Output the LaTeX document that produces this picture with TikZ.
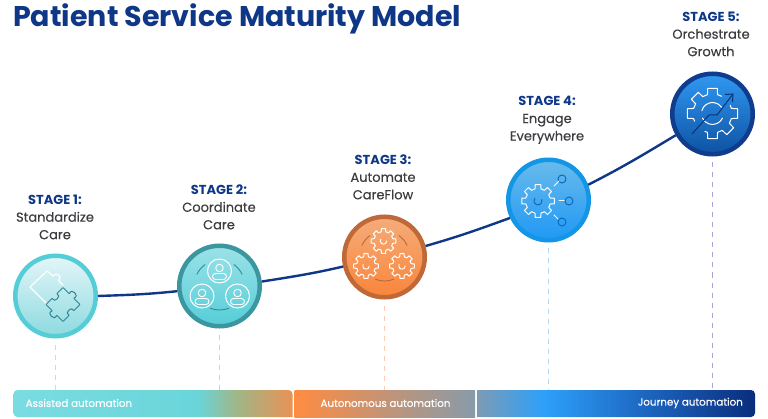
\documentclass[tikz,border=0pt]{standalone}
\usepackage{fontspec}
\setmainfont{Poppins}
\newfontfamily\medfont[FakeBold=0.3]{Poppins}
\usetikzlibrary{arrows.meta}
\definecolor{navy}{RGB}{15,55,135}
\definecolor{txt}{RGB}{60,60,65}
\definecolor{aA}{RGB}{122,220,226}\definecolor{aB}{RGB}{105,213,218}\definecolor{aC}{RGB}{160,182,135}\definecolor{aD}{RGB}{232,146,85}
\definecolor{bA}{RGB}{255,140,65}\definecolor{bB}{RGB}{135,155,170}
\definecolor{cA}{RGB}{125,155,180}\definecolor{cB}{RGB}{45,160,250}\definecolor{cC}{RGB}{28,100,190}\definecolor{cD}{RGB}{10,45,125}
\definecolor{bdA}{RGB}{85,205,215}\definecolor{hiA}{RGB}{228,246,248}\definecolor{loA}{RGB}{140,218,224}
\definecolor{bdB}{RGB}{60,150,160}\definecolor{hiB}{RGB}{155,226,232}\definecolor{loB}{RGB}{85,205,215}
\definecolor{bdC}{RGB}{190,105,55}\definecolor{hiC}{RGB}{245,172,122}\definecolor{loC}{RGB}{250,133,58}
\definecolor{bdD}{RGB}{20,150,230}\definecolor{hiD}{RGB}{105,187,235}\definecolor{loD}{RGB}{32,152,245}
\definecolor{bdE}{RGB}{15,60,140}\definecolor{hiE}{RGB}{48,152,242}\definecolor{loE}{RGB}{14,82,162}
\definecolor{daA}{RGB}{180,228,238}\definecolor{daB}{RGB}{180,216,240}\definecolor{daC}{RGB}{250,205,180}\definecolor{daE}{RGB}{165,165,215}
\definecolor{icA}{RGB}{45,135,150}\definecolor{icB}{RGB}{50,140,150}\definecolor{icC}{RGB}{185,105,60}\definecolor{icD}{RGB}{15,105,190}\definecolor{icE}{RGB}{10,50,120}
\pgfdeclarehorizontalshading{segone}{100bp}{color(0bp)=(aA);color(25bp)=(aA);color(58bp)=(aB);color(65bp)=(aC);color(75bp)=(aD);color(100bp)=(aD)}
\pgfdeclarehorizontalshading{segtwo}{100bp}{color(0bp)=(bA);color(25bp)=(bA);color(75bp)=(bB);color(100bp)=(bB)}
\pgfdeclarehorizontalshading{segthree}{100bp}{color(0bp)=(cA);color(25bp)=(cA);color(37bp)=(cB);color(56bp)=(cC);color(75bp)=(cD);color(100bp)=(cD)}
\tikzset{
 stagecirc/.style={circle,minimum size=80.5pt,inner sep=0pt,line width=4.5pt,shading angle=-45},
 link/.style={navy,line width=2.4pt},
 dashline/.style={line width=.9pt,dash pattern=on 5pt off 5pt},
 stagelabel/.style={align=center,inner sep=0pt,font=\medfont\fontsize{13}{17.5}\selectfont,text=txt},
 barlabel/.style={inner sep=0pt,text=white,font=\medfont\fontsize{10.3}{12}\selectfont},
 icon/.style={white,line width=1pt,line join=round,line cap=round},
}
\newcommand{\stg}[1]{{\rmfamily\fontsize{13}{17.5}\selectfont\bfseries\color{navy}#1}}
% centre x, centre y, outer r, inner r, teeth, colour
\newcommand{\geargl}[6]{%
 \pgfmathsetmacro{\stp}{360/#5}%
 \draw[icon,#6,shift={(#1,#2)}] ({-\stp*.31}:#4pt)
 \foreach \k in {1,...,#5}{
   -- ({(\k-1)*\stp-\stp*.22}:#3pt) -- ({(\k-1)*\stp+\stp*.22}:#3pt) -- ({(\k-1)*\stp+\stp*.31}:#4pt) -- ({\k*\stp-\stp*.31}:#4pt)
 } -- cycle;}
\newcommand{\person}[3]{%
 \draw[icon,#3] (#1,#2) circle[radius=12pt];
 \draw[icon,#3,line width=.9pt] (#1,#2+3) circle[radius=3.8pt];
 \draw[icon,#3,line width=.9pt,rounded corners=3pt] (#1-7,#2-8.5) rectangle (#1+7,#2-2.5);}
\begin{document}
\begin{tikzpicture}[x=1pt,y=1pt]
\useasboundingbox (0,0) rectangle (768,418);
\fill[white] (0,0) rectangle (768,418);
\node[anchor=west,inner sep=0pt,text=navy,font=\fontsize{28.5}{34}\selectfont\bfseries] (title) at (13,399) {Patient Service Maturity Model};
% bar
\coordinate (d1) at (55.5,28);\coordinate (d2) at (219.5,28);\coordinate (d3) at (384.5,28);\coordinate (d4) at (548.5,28);\coordinate (d5) at (712.5,28);
% circles
\node[stagecirc,draw=bdA,top color=hiA,bottom color=loA] (n1) at (55.5,122) {};
\node[stagecirc,draw=bdB,top color=hiB,bottom color=loB] (n2) at (219.5,132) {};
\node[stagecirc,draw=bdC,top color=hiC,bottom color=loC] (n3) at (384.5,161) {};
\node[stagecirc,draw=bdD,top color=hiD,bottom color=loD] (n4) at (548.5,218) {};
\node[stagecirc,draw=bdE,top color=hiE,bottom color=loE] (n5) at (712.5,304) {};
% connectors
\draw[link] (n1.0) to[out=2,in=186] (n2.187);
\draw[link] (n2.6) to[out=9,in=193] (n3.193);
\draw[link] (n3.15) to[out=16,in=200] (n4.205);
\draw[link] (n4.21) to[out=27,in=211] (n5.210);
% dashed
\draw[dashline,daA] ([yshift=-6pt]n1.south) -- (d1);
\draw[dashline,daB] ([yshift=-6pt]n2.south) -- (d2);
\draw[dashline,daC] ([yshift=-6pt]n3.south) -- (d3);
\draw[dashline,daB] ([yshift=-6pt]n4.south) -- (d4);
\draw[dashline,daE] ([yshift=-6pt]n5.south) -- (d5);
% bar segments
\path[shading=segone,rounded corners=4pt] (13.5,1) -- (13.5,28) -- (292.5,28) [sharp corners] -- (292.5,1) [rounded corners=4pt] -- cycle;
\path[shading=segtwo] (294.5,1) rectangle (475,28);
\path[shading=segthree,rounded corners=4pt] (477,1) [sharp corners] -- (477,28) [rounded corners=4pt] -- (755,28) -- (755,1) [sharp corners] -- (477,1) -- cycle;
\node[barlabel,anchor=west] (b1) at (25.5,15) {Assisted automation};
\node[barlabel] (b2) at (385.5,15) {Autonomous automation};
\node[barlabel,anchor=east] (b3) at (743,15) {Journey automation};
% texts
\node[stagelabel] (t1) at (55,201) {\stg{STAGE 1:}\\Standardize\\Care};
\node[stagelabel] (t2) at (219,211) {\stg{STAGE 2:}\\Coordinate\\Care};
\node[stagelabel] (t3) at (383,241) {\stg{STAGE 3:}\\Automate\\CareFlow};
\node[stagelabel] (t4) at (547,298) {\stg{STAGE 4:}\\Engage\\Everywhere};
\node[stagelabel] (t5) at (711,384) {\stg{STAGE 5:}\\Orchestrate\\Growth};
% icon 1 puzzle
\draw[icon,line width=1.1pt] (63,133) -- (58.5,137.5) .. controls (63,143) and (55,146) .. (53,142) -- (47,147) -- (30,131) -- (47,114);
\begin{scope}[shift={(63,113.5)},rotate=45]
\draw[icA,line width=1pt,line join=round,rounded corners=.6pt]
 (-12,-12) -- (-3,-12) .. controls (-6,-7) and (6,-7) .. (3,-12) -- (12,-12) -- (12,-3) .. controls (18,-6) and (18,6) .. (12,3) -- (12,12) -- (3,12) .. controls (6,7) and (-6,7) .. (-3,12) -- (-12,12) -- (-12,3) .. controls (-18,6) and (-18,-6) .. (-12,-3) -- cycle;
\end{scope}
% icon 2 people
\person{219.5}{147}{}
\person{202}{122}{}
\person{237.5}{122}{}
\foreach \a/\b in {155/125,25/55,-112/-68}{
 \draw[icB,line width=.9pt] (219.5,133) ++(\a:25pt) arc[start angle=\a,end angle=\b,radius=25pt];}
% icon 3 gears
\geargl{383.5}{177}{12.5}{9.5}{8}{}
\geargl{366}{152}{12.5}{9.5}{8}{}
\geargl{402}{152}{12.5}{9.5}{8}{}
\foreach \x/\y in {383.5/177,366/152,402/152}{
 \draw[icon,line width=.9pt] (\x,\y) ++(0:3.2pt) arc[start angle=0,end angle=-210,radius=3.2pt];}
\foreach \a/\b in {155/125,25/55,-112/-68}{
 \draw[icC,line width=.9pt] (384.5,162) ++(\a:25pt) arc[start angle=\a,end angle=\b,radius=25pt];}
% icon 4
\geargl{538}{217}{16.5}{12.5}{8}{}
\draw[icD,line width=1pt,line cap=round] (538,217) ++(20:4pt) arc[start angle=20,end angle=-220,radius=4pt];
\foreach \x/\y in {562/239,569/217,562/196}{
 \draw[icD,line width=1pt] (\x,\y) circle[radius=4pt];}
\draw[icon] (554,232) -- (559,237);
\draw[icon] (559,217) -- (564,217);
\draw[icon] (554,203) -- (558,199);
% icon 5: gear open where the arrow crosses it
\draw[icon,shift={(712.5,304.5)}] (62:19.5pt) \foreach \a in {90,135,180}{ -- ({\a-15}:19.5pt) -- ({\a-11}:25.5pt) -- ({\a+11}:25.5pt) -- ({\a+15}:19.5pt)} -- (203:19.5pt);
\draw[icon,shift={(712.5,304.5)}] (247:19.5pt) \foreach \a in {270,315,360}{ -- ({\a-15}:19.5pt) -- ({\a-11}:25.5pt) -- ({\a+11}:25.5pt) -- ({\a+15}:19.5pt)} -- (25:19.5pt);
\draw[icon] (712.5,304.5) ++(35:11pt) arc[start angle=35,end angle=165,radius=11pt];
\draw[icon] (712.5,304.5) ++(-155:11pt) arc[start angle=-155,end angle=-25,radius=11pt];
\draw[icE,line width=1pt,line join=round] (692,284) -- (709,303) -- (717,303) -- (733,324);
\draw[icE,line width=1pt,line join=round] (725,323.5) -- (733,324) -- (732.5,316);
\end{tikzpicture}
\end{document}
